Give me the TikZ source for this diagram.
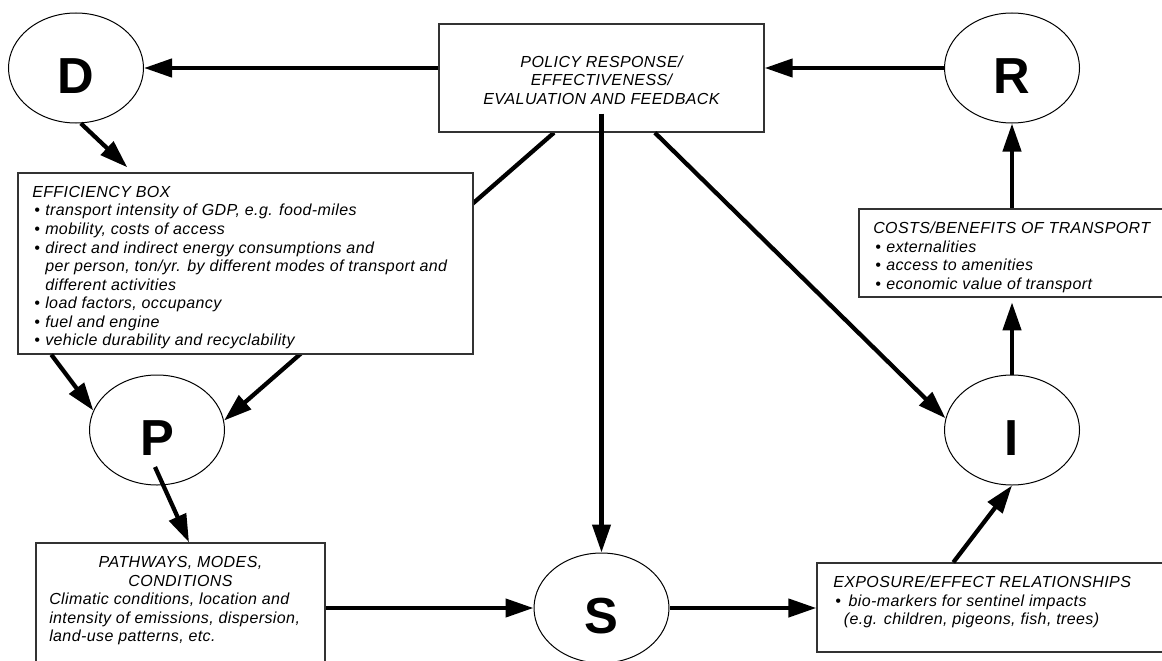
\documentclass[tikz,border=0pt]{standalone}
\usepackage{fontspec}
\setmainfont{Liberation Sans}
\newfontfamily\txtfont{Liberation Sans}[LetterSpace=2.5]
\usetikzlibrary{arrows.meta,shapes.geometric,backgrounds}
\newcommand\liftletter[1]{\raisebox{-6.4pt}[\height][\depth]{#1}}
\newcommand\bul[1][9.75pt]{\makebox[#1][l]{\hspace{1.5pt}\textbullet}}
\begin{document}
\begin{tikzpicture}[x=0.75pt,y=-0.75pt,
  conn/.style={line width=3.2pt,-{Triangle[length=21pt,width=13.5pt]}},
  letterell/.style={ellipse,draw,line width=0.75pt,minimum width=101.25pt,minimum height=82.5pt,inner sep=0pt,font=\fontsize{38}{38}\selectfont\bfseries},
  infobox/.style={draw=black!80,line width=1pt,inner sep=0pt,fill=white},
  boxtext/.style={inner sep=0pt,font=\txtfont\fontsize{12}{13.9}\selectfont\itshape},
]
\useasboundingbox (0,0) rectangle (1162,660);

% letter ellipses
\node[letterell] (D) at (76,68) {\liftletter{D}};
\node[letterell] (R) at (1012,68) {\liftletter{R}};
\node[letterell] (P) at (157,430) {\liftletter{P}};
\node[letterell] (I) at (1012,430) {\liftletter{I}};
\node[letterell] (S) at (601.5,608) {\liftletter{S}};

% boxes
\node[infobox,minimum width=243.75pt,minimum height=81pt] (pol) at (601.5,78) {};
\node[boxtext,align=center] (poltext) at (601.5,80) {POLICY RESPONSE/\\EFFECTIVENESS/\\EVALUATION AND FEEDBACK};

\node[infobox,minimum width=341.25pt,minimum height=135.75pt] (eff) at (245.5,263.5) {};
\node[boxtext,align=left,anchor=north west] (efftext) at (32,186) {EFFICIENCY BOX\\
\bul transport intensity of GDP, e.g. food-miles\\
\bul mobility, costs of access\\
\bul direct and indirect energy consumptions and\\
\hspace*{9.75pt}per person, ton/yr. by different modes of transport and\\
\hspace*{9.75pt}different activities\\
\bul load factors, occupancy\\
\bul fuel and engine\\
\bul vehicle durability and recyclability};

\node[infobox,minimum width=233.25pt,minimum height=66pt] (cost) at (1014.5,253) {};
\node[boxtext,align=left,anchor=north west] (costtext) at (873,222) {COSTS/BENEFITS OF TRANSPORT\\
\bul externalities\\
\bul access to amenities\\
\bul economic value of transport};

\node[infobox,minimum width=264.75pt,minimum height=66.75pt] (expo) at (993.5,607.5) {};
\node[boxtext,align=left,anchor=north west] (expotext) at (833,576) {EXPOSURE/EFFECT RELATIONSHIPS\\
\bul[7.9pt] bio-markers for sentinel impacts\\
\hspace*{7.9pt}(e.g. children, pigeons, fish, trees)};

\node[infobox,minimum width=216.75pt,minimum height=102.75pt] (path) at (180.5,611.5) {};
\node[boxtext,align=center] (pathtitle) at (180.5,571.5) {PATHWAYS, MODES,\\CONDITIONS};
\node[boxtext,align=left,anchor=north west] (pathbody) at (49,593) {Climatic conditions, location and\\
intensity of emissions, dispersion,\\
land-use patterns, etc.};

% connectors
\begin{scope}[on background layer]
\draw[conn] ([xshift=-35.6pt]pol.south) -- (P.8);
\end{scope}
\draw[conn] (pol.west |- D.east) -- (D.east);
\draw[conn] (R.west) -- (pol.east |- R.west);
\draw[conn] ([yshift=14.25pt]pol.south) -- (S.north);
\draw[conn] ([xshift=40pt]pol.south) -- (I.170);
\draw[conn] (D.-85) -- ([xshift=82.5pt,yshift=3.75pt]eff.north west);
\draw[conn] ([xshift=25.5pt]eff.south west) -- (P.163);
\draw[conn] ([xshift=-1.5pt,yshift=-27.75pt]P.center) -- ([xshift=6.4pt]path.north);
\draw[conn] (path.east |- S.west) -- (S.west);
\draw[conn] (S.east) -- (expo.west |- S.east);
\draw[conn] ([xshift=102.75pt]expo.north west) -- (I.south);
\draw[conn,shorten >=3.5pt] (I.north) -- (I.north |- cost.south);
\draw[conn] (R.south |- cost.north) -- (R.south);
\end{tikzpicture}
\end{document}
